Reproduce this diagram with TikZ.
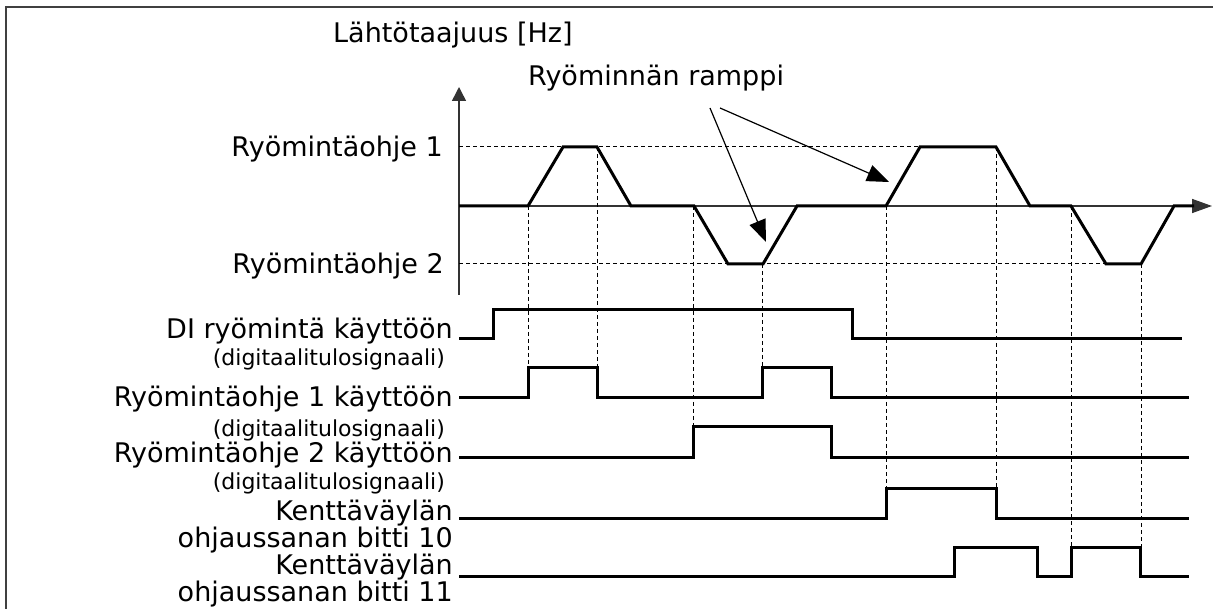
\documentclass[tikz,border=0pt]{standalone}
\usepackage{fontspec}
\setmainfont{DejaVu Sans}
\usetikzlibrary{arrows.meta}
\begin{document}
\begin{tikzpicture}[x=1pt,y=-1pt,
  big/.style={font=\fontsize{27}{30}\selectfont, inner sep=0pt},
  small/.style={font=\fontsize{22}{24}\selectfont, inner sep=0pt},
  wave/.style={line width=3pt, line join=miter},
  axis/.style={line width=1.5pt, draw=black!80, fill=black},
  guide/.style={line width=1pt, dash pattern=on 4pt off 3pt},
  pointer/.style={line width=1.2pt, -{Triangle[length=22pt,width=17pt]}},
  frame/.style={line width=1.6pt, draw=black!75}]
\useasboundingbox (0,0) rectangle (1213,609);
% frame
\draw[frame] (1213,7) -- (6,7) -- (6,609);
% titles
\node[big, anchor=base west] (title) at (333,43) {Lähtötaajuus [Hz]};
\node[big, anchor=base west] (ramp) at (528,86) {Ryöminnän ramppi};
\node[big, anchor=base east] (l1) at (443,157) {Ryömintäohje 1};
\node[big, anchor=base east] (l2) at (444,274) {Ryömintäohje 2};
% axes
\coordinate (ytip) at (459,87);
\coordinate (xtip) at (1212,206);
\draw[axis, -{Triangle[length=14pt,width=14pt]}] (459,295) -- (ytip);
\draw[axis, -{Triangle[length=20pt,width=14pt]}] (459,206) -- (xtip);
% dashed level lines
\draw[guide] (459,147) -- (920,147);
\draw[guide] (459,264) -- (1106,264);
% dashed verticals
\draw[guide] (528,206) -- (528,368);
\draw[guide] (597,147) -- (597,368);
\draw[guide] (693,206) -- (693,427);
\draw[guide] (762,264) -- (762,368);
\draw[guide] (886,206) -- (886,488);
\draw[guide] (996,147) -- (996,488);
\draw[guide] (1071,206) -- (1071,547);
\draw[guide] (1141,264) -- (1141,547);
% frequency waveform
\draw[wave] (459,206) -- (528,206) -- (563,147) -- (597,147) -- (631,206)
  -- (694,206) -- (728,264) -- (763,264) -- (797,206) -- (886,206)
  -- (920,147) -- (996,147) -- (1030,206) -- (1071,206) -- (1106,264)
  -- (1141,264) -- (1174,206) -- (1194,206);
% ramp pointers
\coordinate (p1) at (710,108);
\coordinate (p2) at (720,108);
\coordinate (t1) at (766,242);
\coordinate (t2) at (889,182);
\draw[pointer] (p1) -- (t1);
\draw[pointer] (p2) -- (t2);
% signal labels
\node[big, anchor=base east] (s1) at (453,339) {DI ryömintä käyttöön};
\node[small, anchor=base east] (d1) at (445,366) {(digitaalitulosignaali)};
\node[big, anchor=base east] (s2) at (453,407) {Ryömintäohje 1 käyttöön};
\node[small, anchor=base east] (d2) at (445,436) {(digitaalitulosignaali)};
\node[big, anchor=base east] (s3) at (453,462) {Ryömintäohje 2 käyttöön};
\node[small, anchor=base east] (d3) at (445,489) {(digitaalitulosignaali)};
\node[big, anchor=base east] (s4) at (453,520) {Kenttäväylän};
\node[big, anchor=base east] (s4b) at (453,547) {ohjaussanan bitti 10};
\node[big, anchor=base east] (s5) at (453,574) {Kenttäväylän};
\node[big, anchor=base east] (s5b) at (453,601) {ohjaussanan bitti 11};
% signals
\draw[wave] (459,339) -- (493,339) -- (493,310) -- (852,310) -- (852,339) -- (1182,339);
\draw[wave] (459,398) -- (528,398) -- (528,368) -- (597,368) -- (597,398) -- (762,398)
  -- (762,368) -- (831,368) -- (831,398) -- (1189,398);
\draw[wave] (459,457) -- (693,457) -- (693,427) -- (831,427) -- (831,457) -- (1189,457);
\draw[wave] (459,518) -- (886,518) -- (886,488) -- (996,488) -- (996,518) -- (1189,518);
\draw[wave] (459,576) -- (954,576) -- (954,547) -- (1037,547) -- (1037,576) -- (1071,576)
  -- (1071,547) -- (1140,547) -- (1140,576) -- (1189,576);
\end{tikzpicture}
\end{document}
